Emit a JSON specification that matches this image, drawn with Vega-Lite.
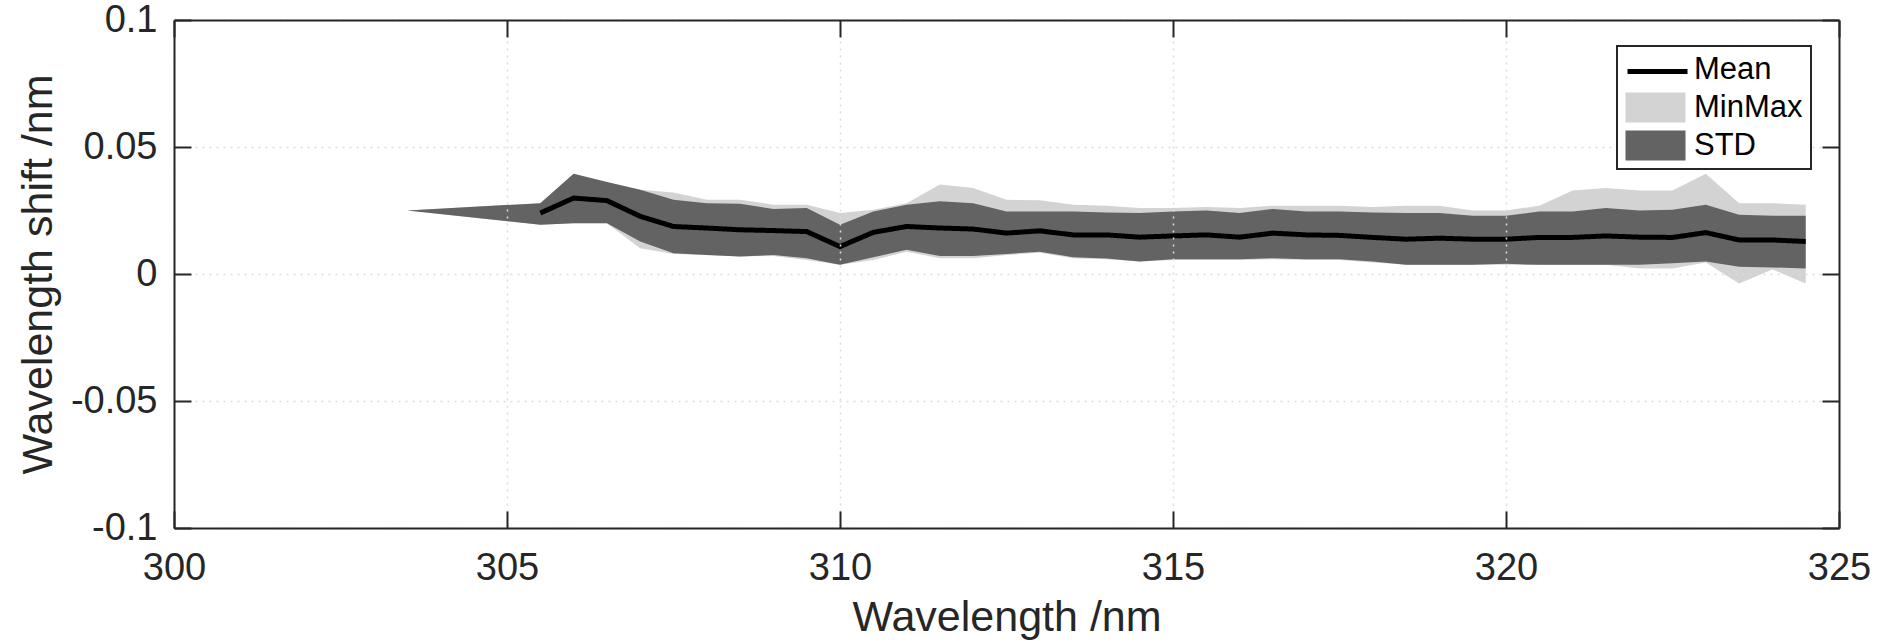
{
  "$schema": "https://vega.github.io/schema/vega-lite/v6.json",
  "width": 1665,
  "height": 508,
  "autosize": {"type": "none"},
  "padding": {"left": 174, "top": 20, "right": 53, "bottom": 115},
  "background": "white",
  "config": {"font": "Liberation Sans", "view": {"stroke": null}, "legend": {"strokeWidth": 2}},
  "title": {"text": "Wavelength shift", "fontSize": 43, "fontWeight": "bold", "color": "#000000", "anchor": "middle", "baseline": "alphabetic", "frame": "group", "offset": -11, "font": "Liberation Sans"},
  "data": {"values": [
    {"wl": 303.5, "mean": null, "stdlo": 0.025, "stdhi": 0.025, "min": 0.025, "max": 0.025},
    {"wl": 305.5, "mean": 0.0240, "stdlo": 0.0194, "stdhi": 0.0279, "min": 0.0194, "max": 0.0279},
    {"wl": 306.0, "mean": 0.0299, "stdlo": 0.0200, "stdhi": 0.0395, "min": 0.0200, "max": 0.0395},
    {"wl": 306.5, "mean": 0.0289, "stdlo": 0.0200, "stdhi": 0.0362, "min": 0.0200, "max": 0.0362},
    {"wl": 307.0, "mean": 0.0227, "stdlo": 0.0128, "stdhi": 0.0332, "min": 0.0101, "max": 0.0332},
    {"wl": 307.5, "mean": 0.0187, "stdlo": 0.0082, "stdhi": 0.0292, "min": 0.0079, "max": 0.0321},
    {"wl": 308.0, "mean": 0.0181, "stdlo": 0.0075, "stdhi": 0.0279, "min": 0.0075, "max": 0.0292},
    {"wl": 308.5, "mean": 0.0174, "stdlo": 0.0069, "stdhi": 0.0277, "min": 0.0069, "max": 0.0292},
    {"wl": 309.0, "mean": 0.0171, "stdlo": 0.0075, "stdhi": 0.0256, "min": 0.0071, "max": 0.0273},
    {"wl": 309.5, "mean": 0.0167, "stdlo": 0.0062, "stdhi": 0.0260, "min": 0.0055, "max": 0.0273},
    {"wl": 310.0, "mean": 0.0108, "stdlo": 0.0036, "stdhi": 0.0194, "min": 0.0036, "max": 0.0240},
    {"wl": 310.5, "mean": 0.0164, "stdlo": 0.0066, "stdhi": 0.0246, "min": 0.0055, "max": 0.0253},
    {"wl": 311.0, "mean": 0.0187, "stdlo": 0.0095, "stdhi": 0.0273, "min": 0.0088, "max": 0.0279},
    {"wl": 311.5, "mean": 0.0181, "stdlo": 0.0071, "stdhi": 0.0286, "min": 0.0062, "max": 0.0352},
    {"wl": 312.0, "mean": 0.0177, "stdlo": 0.0071, "stdhi": 0.0279, "min": 0.0062, "max": 0.0339},
    {"wl": 312.5, "mean": 0.0161, "stdlo": 0.0079, "stdhi": 0.0246, "min": 0.0075, "max": 0.0292},
    {"wl": 313.0, "mean": 0.0170, "stdlo": 0.0088, "stdhi": 0.0246, "min": 0.0084, "max": 0.0290},
    {"wl": 313.5, "mean": 0.0154, "stdlo": 0.0066, "stdhi": 0.0246, "min": 0.0062, "max": 0.0273},
    {"wl": 314.0, "mean": 0.0154, "stdlo": 0.0061, "stdhi": 0.0242, "min": 0.0058, "max": 0.0269},
    {"wl": 314.5, "mean": 0.0145, "stdlo": 0.0049, "stdhi": 0.0240, "min": 0.0049, "max": 0.0260},
    {"wl": 315.0, "mean": 0.0150, "stdlo": 0.0058, "stdhi": 0.0246, "min": 0.0055, "max": 0.0260},
    {"wl": 315.5, "mean": 0.0154, "stdlo": 0.0058, "stdhi": 0.0250, "min": 0.0055, "max": 0.0264},
    {"wl": 316.0, "mean": 0.0145, "stdlo": 0.0058, "stdhi": 0.0240, "min": 0.0055, "max": 0.0260},
    {"wl": 316.5, "mean": 0.0161, "stdlo": 0.0062, "stdhi": 0.0256, "min": 0.0058, "max": 0.0269},
    {"wl": 317.0, "mean": 0.0154, "stdlo": 0.0058, "stdhi": 0.0246, "min": 0.0055, "max": 0.0269},
    {"wl": 317.5, "mean": 0.0152, "stdlo": 0.0058, "stdhi": 0.0246, "min": 0.0055, "max": 0.0269},
    {"wl": 318.0, "mean": 0.0144, "stdlo": 0.0049, "stdhi": 0.0242, "min": 0.0045, "max": 0.0264},
    {"wl": 318.5, "mean": 0.0137, "stdlo": 0.0036, "stdhi": 0.0240, "min": 0.0036, "max": 0.0269},
    {"wl": 319.0, "mean": 0.0141, "stdlo": 0.0036, "stdhi": 0.0240, "min": 0.0036, "max": 0.0269},
    {"wl": 319.5, "mean": 0.0137, "stdlo": 0.0036, "stdhi": 0.0229, "min": 0.0036, "max": 0.0250},
    {"wl": 320.0, "mean": 0.0137, "stdlo": 0.0040, "stdhi": 0.0229, "min": 0.0036, "max": 0.0250},
    {"wl": 320.5, "mean": 0.0144, "stdlo": 0.0036, "stdhi": 0.0246, "min": 0.0036, "max": 0.0269},
    {"wl": 321.0, "mean": 0.0144, "stdlo": 0.0036, "stdhi": 0.0246, "min": 0.0036, "max": 0.0329},
    {"wl": 321.5, "mean": 0.0150, "stdlo": 0.0036, "stdhi": 0.0260, "min": 0.0036, "max": 0.0339},
    {"wl": 322.0, "mean": 0.0145, "stdlo": 0.0036, "stdhi": 0.0250, "min": 0.0022, "max": 0.0329},
    {"wl": 322.5, "mean": 0.0144, "stdlo": 0.0042, "stdhi": 0.0253, "min": 0.0022, "max": 0.0329},
    {"wl": 323.0, "mean": 0.0163, "stdlo": 0.0049, "stdhi": 0.0273, "min": 0.0045, "max": 0.0395},
    {"wl": 323.5, "mean": 0.0134, "stdlo": 0.0029, "stdhi": 0.0233, "min": -0.0037, "max": 0.0279},
    {"wl": 324.0, "mean": 0.0134, "stdlo": 0.0026, "stdhi": 0.0229, "min": 0.0018, "max": 0.0279},
    {"wl": 324.5, "mean": 0.0128, "stdlo": 0.0022, "stdhi": 0.0229, "min": -0.0037, "max": 0.0273}
  ]},
  "resolve": {"axis": {"x": "independent", "y": "independent"}},
  "layer": [
    {
      "mark": {"type": "area", "interpolate": "linear"},
      "encoding": {
        "x": {"field": "wl", "type": "quantitative", "scale": {"domain": [300, 325], "nice": false, "zero": false},
          "axis": {"orient": "bottom", "values": [300, 305, 310, 315, 320, 325], "format": "d", "title": "Wavelength /nm",
            "titleFontSize": 43, "titleFontWeight": "normal", "titleColor": "#262626", "titlePadding": 9,
            "labelFontSize": 38, "labelColor": "#262626", "labelPadding": 38, "labelFlush": false, "labelOverlap": false,
            "tickSize": -17, "tickWidth": 2, "tickColor": "#262626", "domainColor": "#262626", "domainWidth": 2,
            "grid": true, "gridColor": "#dcdcdc", "gridDash": [2, 5], "gridWidth": 1.5, "zindex": 1}},
        "y": {"field": "min", "type": "quantitative", "scale": {"domain": [-0.1, 0.1], "nice": false, "zero": false},
          "axis": {"orient": "left", "values": [-0.1, -0.05, 0, 0.05, 0.1], "labelExpr": "'' + datum.value", "title": "Wavelength shift /nm",
            "titleFontSize": 43, "titleFontWeight": "normal", "titleColor": "#262626", "titlePadding": 10,
            "labelFontSize": 38, "labelColor": "#262626", "labelPadding": 34, "labelFlush": false, "labelOverlap": false,
            "tickSize": -17, "tickWidth": 2, "tickColor": "#262626", "domainColor": "#262626", "domainWidth": 2,
            "grid": true, "gridColor": "#dcdcdc", "gridDash": [2, 5], "gridWidth": 1.5, "zindex": 1}},
        "y2": {"field": "max"},
        "color": {"datum": "MinMax", "type": "nominal",
          "scale": {"domain": ["Mean", "MinMax", "STD"], "range": ["#ffffff", "#d3d3d3", "#636363"]},
          "legend": {"title": null, "orient": "none", "legendX": 1443, "legendY": 26,
            "labelFontSize": 31, "labelFont": "Liberation Sans", "labelColor": "#000000",
            "strokeColor": "#262626", "fillColor": "white", "padding": 8,
            "symbolType": "M-2,-1H2V1H-2Z", "symbolSize": 900, "symbolStrokeWidth": 0,
            "symbolOffset": 15, "labelOffset": 23, "rowPadding": 6, "zindex": 1}}
      }
    },
    {
      "mark": {"type": "area", "interpolate": "linear"},
      "encoding": {
        "x": {"field": "wl", "type": "quantitative",
          "axis": {"orient": "top", "values": [300, 305, 310, 315, 320, 325], "labels": false, "title": null, "grid": false,
            "tickSize": -17, "tickWidth": 2, "tickColor": "#262626", "domainColor": "#262626", "domainWidth": 2, "zindex": 1}},
        "y": {"field": "stdlo", "type": "quantitative",
          "axis": {"orient": "right", "values": [-0.1, -0.05, 0, 0.05, 0.1], "labels": false, "title": null, "grid": false,
            "tickSize": -17, "tickWidth": 2, "tickColor": "#262626", "domainColor": "#262626", "domainWidth": 2, "zindex": 1}},
        "y2": {"field": "stdhi"},
        "color": {"datum": "STD", "type": "nominal"}
      }
    },
    {
      "mark": {"type": "line", "strokeWidth": 5, "color": "#000000"},
      "encoding": {
        "x": {"field": "wl", "type": "quantitative", "axis": null},
        "y": {"field": "mean", "type": "quantitative", "axis": null},
        "strokeDash": {"datum": "Mean", "type": "nominal",
          "scale": {"domain": ["Mean"], "range": [[1, 0]]},
          "legend": {"title": null, "orient": "none", "legendX": 1451, "legendY": 34, "padding": 0,
            "symbolType": "M-2,0H2", "symbolSize": 900, "symbolStrokeColor": "#000000", "symbolStrokeWidth": 5,
            "symbolOffset": 15, "labelExpr": "''", "labelFontSize": 31, "zindex": 2}}
      }
    }
  ]
}
